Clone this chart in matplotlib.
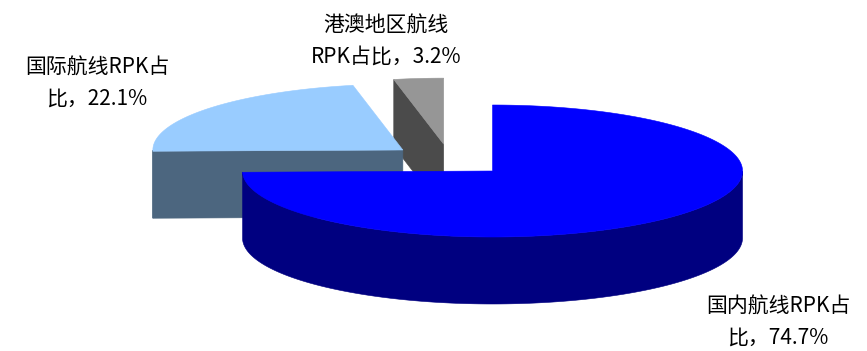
import numpy as np
import matplotlib.pyplot as plt
from matplotlib.patches import Polygon

plt.rcParams['font.family'] = ['Noto Sans CJK SC', 'DejaVu Sans']

# Data
labels = ['国内航线RPK占\n比，74.7%', '国际航线RPK占\n比，22.1%', '港澳地区航线\nRPK占比，3.2%']
shares = [74.7, 22.1, 3.2]
top_colors = ['#0000FF', '#99CCFF', '#969696']
side_colors = ['#000080', '#4C667F', '#4B4B4B']

# Layout in pixels
CX, CY = 449.7, 159.9
RX, RY = 250, 66
DEPTH = 67
EXPLODE = 0.24
START = 90.0
label_pos = [(778, 322), (97, 83), (386, 41)]


def rim(cx, cy, th, dz=0):
    t = np.radians(th)
    return np.column_stack([cx + RX * np.cos(t), cy - RY * np.sin(t) + dz])


def add_poly(ax, pts, color, z):
    ax.add_patch(Polygon(pts, closed=True, facecolor=color, edgecolor=color,
                         lw=0.4, zorder=z))


fig = plt.figure(figsize=(8.67, 3.51), dpi=100)
ax = fig.add_axes([0, 0, 1, 1])
ax.set_xlim(0, 867)
ax.set_ylim(351, 0)
ax.axis('off')

total = sum(shares)
slices = []
a0 = START
for i, s in enumerate(shares):
    span = 360.0 * s / total
    a1 = a0 - span
    mid = np.radians((a0 + a1) / 2)
    cx = CX + EXPLODE * RX * np.cos(mid)
    cy = CY - EXPLODE * RY * np.sin(mid)
    slices.append((cy, i, cx, a0, a1))
    a0 = a1

# back to front
z = 1
for cy, i, cx, a0, a1 in sorted(slices):
    apex = np.array([[cx, cy]])
    apex_b = np.array([[cx, cy + DEPTH]])
    # radial faces
    for ang, sign in ((a0, 1), (a1, -1)):
        if sign * np.cos(np.radians(ang)) < -1e-6:
            face = np.vstack([apex, rim(cx, cy, [ang]), rim(cx, cy, [ang], DEPTH), apex_b])
            add_poly(ax, face, side_colors[i], z)
            z += 1
    # curved outer side, visible part only
    ts = np.linspace(a1, a0, 600)
    vis = np.sin(np.radians(ts)) < 0
    idx = np.flatnonzero(vis)
    if idx.size:
        splits = np.split(idx, np.flatnonzero(np.diff(idx) > 1) + 1)
        for seg in splits:
            tt = ts[seg]
            side = np.vstack([rim(cx, cy, tt), rim(cx, cy, tt[::-1], DEPTH)])
            add_poly(ax, side, side_colors[i], z)
            z += 1
    # top face
    top = np.vstack([apex, rim(cx, cy, np.linspace(a0, a1, 600))])
    add_poly(ax, top, top_colors[i], z)
    z += 1

for lab, (x, y) in zip(labels, label_pos):
    ax.text(x, y, lab, ha='center', va='center', multialignment='center',
            fontsize=15, linespacing=1.5, color='black', zorder=z)

fig.savefig('out.png', dpi=100)
